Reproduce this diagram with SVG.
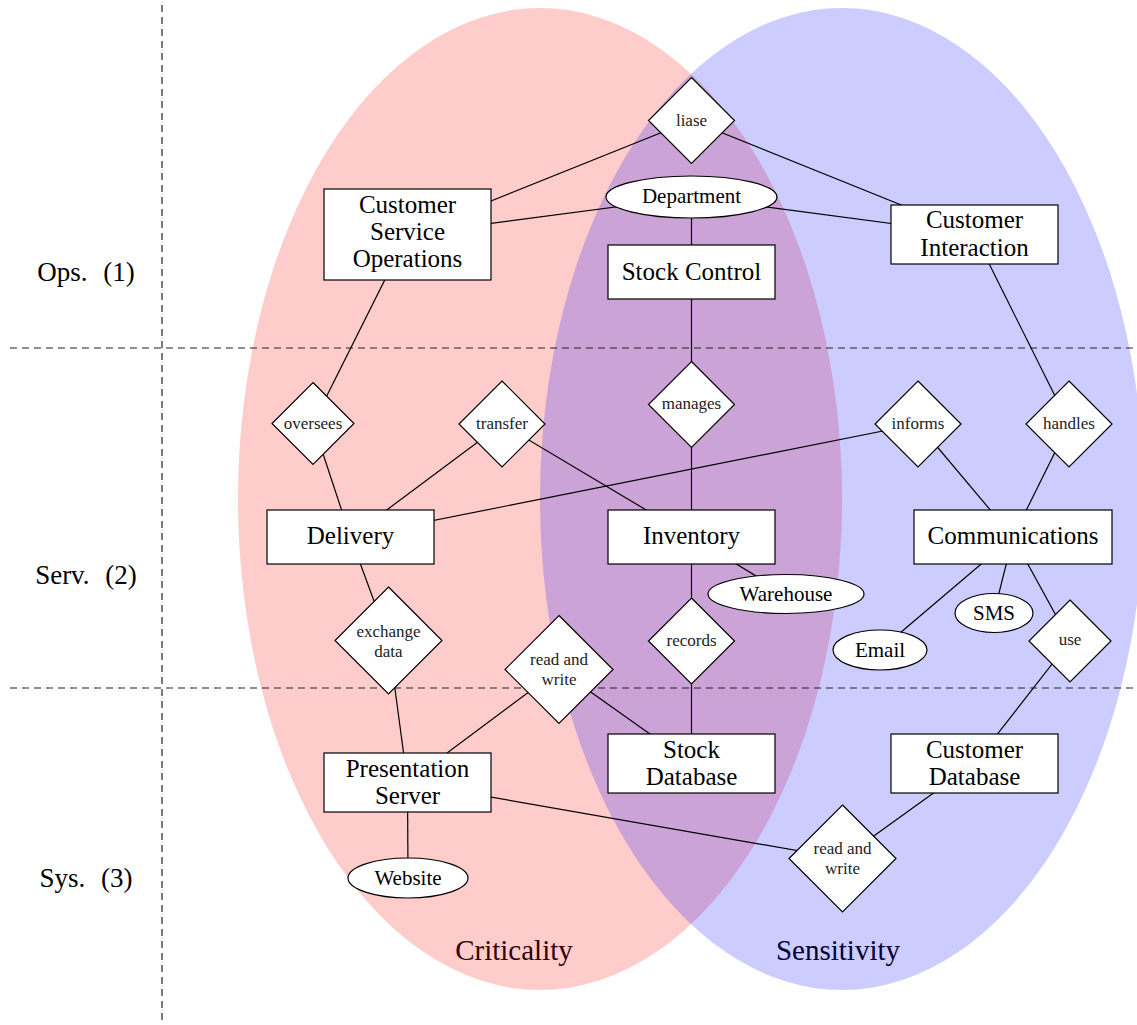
<svg xmlns="http://www.w3.org/2000/svg" width="1137" height="1025" viewBox="0 0 1137 1025" font-family="'Liberation Serif', 'DejaVu Serif', serif">
<style>
.bg{fill:#fff}
.shape{fill:#fff;stroke:#000;stroke-width:1.2}
.t{font-family:'Liberation Serif','DejaVu Serif',serif;font-size:25px;text-anchor:middle;fill:#000}
.rel{font-size:17px;fill:#222}
.attr{font-size:21px}
.row{font-size:27px;word-spacing:9px}
.set{font-size:29px}
#connectors line{stroke:#000;stroke-width:1.2}
#grid line{stroke:#222;stroke-width:1.2;stroke-dasharray:7 5}
</style>
<rect class="bg" x="0" y="0" width="1137" height="1025"/>
<g id="sets">
<ellipse cx="540" cy="499" rx="302" ry="491" fill="red" fill-opacity="0.2"/>
<ellipse cx="842" cy="499" rx="302" ry="491" fill="blue" fill-opacity="0.2"/>
<text class="t set" x="514" y="960" font-family="'Liberation Serif', serif" style="fill:#330000">Criticality</text>
<text class="t set" x="838" y="960" font-family="'Liberation Serif', serif" style="fill:#000033">Sensitivity</text>
</g>
<g id="grid">
<line x1="162" y1="5" x2="162" y2="1020"/>
<line x1="10" y1="348" x2="1137" y2="348"/>
<line x1="10" y1="688" x2="1137" y2="688"/>
</g>
<g id="rows" font-family="'Liberation Serif', serif">
<text class="t row" x="86" y="281">Ops. (1)</text>
<text class="t row" x="86" y="584">Serv. (2)</text>
<text class="t row" x="86" y="887">Sys. (3)</text>
</g>
<g id="connectors">
<line x1="691.5" y1="120.5" x2="407.5" y2="234.5"/>
<line x1="691.5" y1="120.5" x2="974.5" y2="234.5"/>
<line x1="691.5" y1="197" x2="407.5" y2="234.5"/>
<line x1="691.5" y1="197" x2="974.5" y2="234.5"/>
<line x1="691.5" y1="197" x2="691.5" y2="272"/>
<line x1="691.5" y1="272" x2="691.5" y2="404.5"/>
<line x1="691.5" y1="404.5" x2="691.5" y2="537"/>
<line x1="407.5" y1="234.5" x2="313" y2="423.5"/>
<line x1="313" y1="423.5" x2="350.5" y2="537"/>
<line x1="502" y1="424" x2="350.5" y2="537"/>
<line x1="502" y1="424" x2="691.5" y2="537"/>
<line x1="918" y1="424" x2="350.5" y2="537"/>
<line x1="918" y1="424" x2="1013" y2="537"/>
<line x1="974.5" y1="234.5" x2="1069" y2="424"/>
<line x1="1069" y1="424" x2="1013" y2="537"/>
<line x1="691.5" y1="537" x2="786" y2="594"/>
<line x1="691.5" y1="537" x2="691.5" y2="641"/>
<line x1="691.5" y1="641" x2="691.5" y2="763.5"/>
<line x1="1013" y1="537" x2="880" y2="650"/>
<line x1="1013" y1="537" x2="994" y2="613"/>
<line x1="1013" y1="537" x2="1070" y2="641"/>
<line x1="1070" y1="641" x2="974.5" y2="763.5"/>
<line x1="350.5" y1="537" x2="388.5" y2="640.5"/>
<line x1="388.5" y1="640.5" x2="407.5" y2="782.5"/>
<line x1="407.5" y1="782.5" x2="559" y2="669.5"/>
<line x1="559" y1="669.5" x2="691.5" y2="763.5"/>
<line x1="407.5" y1="782.5" x2="408" y2="878"/>
<line x1="407.5" y1="782.5" x2="842.5" y2="858.5"/>
<line x1="842.5" y1="858.5" x2="974.5" y2="763.5"/>
</g>
<g id="n-cso"><rect class="shape" x="324" y="189" width="167" height="91"/><text class="t" x="407.5" y="213">Customer</text><text class="t" x="407.5" y="240">Service</text><text class="t" x="407.5" y="267">Operations</text></g>
<g id="n-stockcontrol"><rect class="shape" x="608" y="245" width="167" height="54"/><text class="t" x="691.5" y="280">Stock Control</text></g>
<g id="n-ci"><rect class="shape" x="891" y="205" width="167" height="59"/><text class="t" x="974.5" y="228">Customer</text><text class="t" x="974.5" y="256">Interaction</text></g>
<g id="n-delivery"><rect class="shape" x="267" y="510" width="167" height="54"/><text class="t" x="350.5" y="544">Delivery</text></g>
<g id="n-inventory"><rect class="shape" x="608" y="510" width="167" height="54"/><text class="t" x="691.5" y="544">Inventory</text></g>
<g id="n-comms"><rect class="shape" x="914" y="510" width="198" height="54"/><text class="t" x="1013" y="544">Communications</text></g>
<g id="n-pres"><rect class="shape" x="324" y="753" width="167" height="59"/><text class="t" x="407.5" y="777">Presentation</text><text class="t" x="407.5" y="804">Server</text></g>
<g id="n-stockdb"><rect class="shape" x="608" y="734" width="167" height="59"/><text class="t" x="691.5" y="758">Stock</text><text class="t" x="691.5" y="785">Database</text></g>
<g id="n-custdb"><rect class="shape" x="891" y="734" width="167" height="59"/><text class="t" x="974.5" y="758">Customer</text><text class="t" x="974.5" y="785">Database</text></g>
<g id="r-liase"><polygon class="shape" points="691.5,77.5 734.5,120.5 691.5,163.5 648.5,120.5"/><text class="t rel" x="691.5" y="126">liase</text></g>
<g id="r-oversees"><polygon class="shape" points="313,382.5 354,423.5 313,464.5 272,423.5"/><text class="t rel" x="313" y="429">oversees</text></g>
<g id="r-transfer"><polygon class="shape" points="502,381 545,424 502,467 459,424"/><text class="t rel" x="502" y="429">transfer</text></g>
<g id="r-manages"><polygon class="shape" points="691.5,361.5 734.5,404.5 691.5,447.5 648.5,404.5"/><text class="t rel" x="691.5" y="409">manages</text></g>
<g id="r-informs"><polygon class="shape" points="918,381 961,424 918,467 875,424"/><text class="t rel" x="918" y="429">informs</text></g>
<g id="r-handles"><polygon class="shape" points="1069,381 1112,424 1069,467 1026,424"/><text class="t rel" x="1069" y="429">handles</text></g>
<g id="r-exchange"><polygon class="shape" points="388.5,587 442,640.5 388.5,694 335,640.5"/><text class="t rel" x="388.5" y="637">exchange</text><text class="t rel" x="388.5" y="657">data</text></g>
<g id="r-rwl"><polygon class="shape" points="559,615.5 613,669.5 559,723.5 505,669.5"/><text class="t rel" x="559" y="665">read and</text><text class="t rel" x="559" y="685">write</text></g>
<g id="r-records"><polygon class="shape" points="691.5,598 734.5,641 691.5,684 648.5,641"/><text class="t rel" x="691.5" y="646">records</text></g>
<g id="r-use"><polygon class="shape" points="1070,600 1111,641 1070,682 1029,641"/><text class="t rel" x="1070" y="645">use</text></g>
<g id="r-rwr"><polygon class="shape" points="842.5,805 896,858.5 842.5,912 789,858.5"/><text class="t rel" x="842.5" y="854">read and</text><text class="t rel" x="842.5" y="874">write</text></g>
<g id="a-dept"><ellipse class="shape" cx="691.5" cy="197" rx="85.5" ry="21"/><text class="t attr" x="691.5" y="203">Department</text></g>
<g id="a-warehouse"><ellipse class="shape" cx="786" cy="594" rx="78" ry="19.5"/><text class="t attr" x="786" y="601">Warehouse</text></g>
<g id="a-email"><ellipse class="shape" cx="880" cy="650" rx="47" ry="20"/><text class="t attr" x="880" y="657">Email</text></g>
<g id="a-sms"><ellipse class="shape" cx="994" cy="613" rx="39" ry="19.5"/><text class="t attr" x="994" y="620">SMS</text></g>
<g id="a-website"><ellipse class="shape" cx="408" cy="878" rx="60" ry="20"/><text class="t attr" x="408" y="885">Website</text></g>
</svg>
